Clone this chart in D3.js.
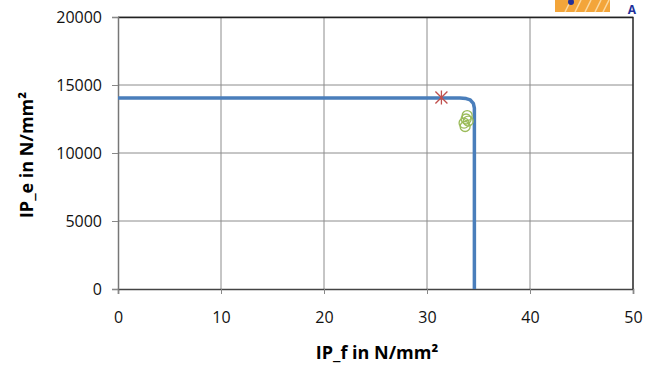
<!DOCTYPE html>
<html>
<head>
<meta charset="utf-8">
<script src="https://cdn.jsdelivr.net/npm/d3@7"></script>
<style>
  body { margin: 0; background: #fff; }
  text { font-family: "Open Sans", "Liberation Sans", sans-serif; }
</style>
</head>
<body>
<svg id="chart" width="645" height="376"></svg>
<script>
// envelope line (IP_f, IP_e)
const envelopeF = [0, 33.2, 33.8, 34.2, 34.5, 34.6, 34.6];
const envelopeE = [14050, 14050, 14000, 13900, 13650, 13300, 0];
// red star point
const starF = [31.4];
const starE = [14080];
// green circle points
const circleF = [33.9, 33.8, 33.6, 33.7, 34.0];
const circleE = [12750, 12500, 12200, 11950, 12350];

const xTicks = [0, 10, 20, 30, 40, 50];
const yTicks = [0, 5000, 10000, 15000, 20000];

const svg = d3.select("#chart");
const margin = { left: 118, right: 12, top: 17, bottom: 87 };
const width = 645 - margin.left - margin.right;
const height = 376 - margin.top - margin.bottom;

const x = d3.scaleLinear().domain([0, 50]).range([0, width]);
const y = d3.scaleLinear().domain([0, 20000]).range([height, 0]);

const g = svg.append("g").attr("transform", `translate(${margin.left},${margin.top})`);

// gridlines
g.append("g")
  .selectAll("line")
  .data(yTicks.slice(1))
  .join("line")
  .attr("x1", 0).attr("x2", width)
  .attr("y1", d => y(d)).attr("y2", d => y(d))
  .attr("stroke", "#8c8c8c").attr("stroke-width", 1);

g.append("g")
  .selectAll("line")
  .data(xTicks.slice(1))
  .join("line")
  .attr("x1", d => x(d)).attr("x2", d => x(d))
  .attr("y1", 0).attr("y2", height)
  .attr("stroke", "#8c8c8c").attr("stroke-width", 1);

// frame top + right
g.append("path")
  .attr("d", `M0,0.5H${width}V${height}`)
  .attr("fill", "none").attr("stroke", "#222").attr("stroke-width", 1.3);

// axes
const xAxis = g.append("g")
  .attr("transform", `translate(0,${height})`)
  .call(d3.axisBottom(x).tickValues(xTicks).tickFormat(d3.format("d")).tickSize(5).tickPadding(18));
const yAxis = g.append("g")
  .call(d3.axisLeft(y).tickValues(yTicks).tickFormat(d3.format("d")).tickSize(6).tickPadding(10));

[xAxis, yAxis].forEach(a => {
  a.select(".domain").attr("stroke", "#777").attr("stroke-width", 1.5);
  a.selectAll(".tick line").attr("stroke", "#888");
  a.selectAll("text").attr("font-size", 16).attr("fill", "#111")
    .style("font-family", "'Open Sans', sans-serif");
});
xAxis.select(".domain").attr("stroke", "#444");

// envelope line
const env = envelopeF.map((f, i) => [f, envelopeE[i]]);
g.append("path")
  .datum(env)
  .attr("fill", "none")
  .attr("stroke", "#4a7ebb")
  .attr("stroke-width", 3.5)
  .attr("stroke-linejoin", "round")
  .attr("d", d3.line()
    .x(d => x(d[0]))
    .y(d => y(d[1])));

// green circles
g.append("g")
  .selectAll("circle")
  .data(circleF.map((f, i) => [f, circleE[i]]))
  .join("circle")
  .attr("cx", d => x(d[0]))
  .attr("cy", d => y(d[1]))
  .attr("r", 5)
  .attr("fill", "none")
  .attr("stroke", "#9bbb59")
  .attr("stroke-width", 1.3);

// red star
const star = g.append("g")
  .selectAll("g")
  .data(starF.map((f, i) => [f, starE[i]]))
  .join("g")
  .attr("transform", d => `translate(${x(d[0])},${y(d[1])})`);
[[-6, -6, 6, 6], [-6, 6, 6, -6], [0, -7, 0, 7]].forEach(s => {
  star.append("line")
    .attr("x1", s[0]).attr("y1", s[1]).attr("x2", s[2]).attr("y2", s[3])
    .attr("stroke", "#c0504d").attr("stroke-width", 1.3);
});

// axis titles
svg.append("text")
  .attr("x", 377)
  .attr("y", 359)
  .attr("text-anchor", "middle")
  .attr("font-size", 18)
  .attr("font-weight", "bold")
  .text("IP_f in N/mm²");

svg.append("text")
  .attr("transform", `translate(33,155) rotate(-90)`)
  .attr("text-anchor", "middle")
  .attr("font-size", 18)
  .attr("font-weight", "bold")
  .text("IP_e in N/mm²");

// logo fragment top right
const logo = svg.append("g");
logo.append("rect").attr("x", 555).attr("y", 0).attr("width", 55).attr("height", 12)
  .attr("fill", "#f3a53a");
[565, 575, 585, 595, 603].forEach(px => {
  logo.append("line").attr("x1", px).attr("y1", 12).attr("x2", px + 6).attr("y2", 0)
    .attr("stroke", "#fbd9a0").attr("stroke-width", 1.5);
});
logo.append("circle").attr("cx", 571).attr("cy", 2).attr("r", 3).attr("fill", "#22309a");
logo.append("text").attr("x", 632).attr("y", 14).attr("text-anchor", "middle")
  .attr("font-size", 12).attr("font-weight", "bold").attr("fill", "#22309a").text("A");
</script>
</body>
</html>
